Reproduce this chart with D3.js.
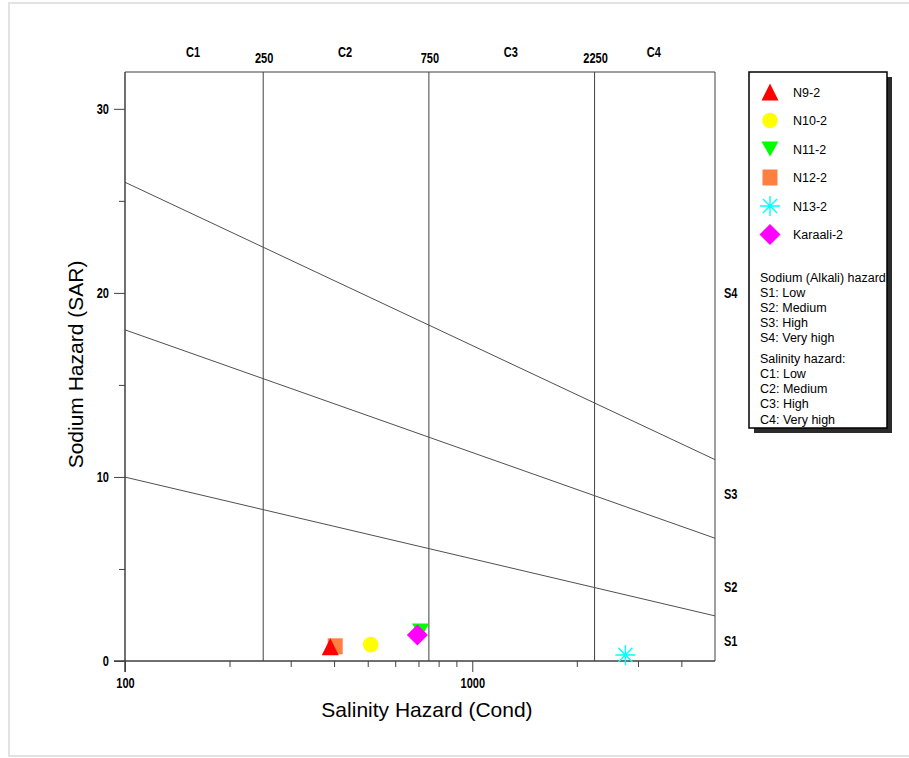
<!DOCTYPE html>
<html>
<head>
<meta charset="utf-8">
<script src="https://cdn.jsdelivr.net/npm/d3@7"></script>
<style>
  html, body { margin: 0; padding: 0; background: #fff; }
  svg { display: block; font-family: Arial, "Liberation Sans", sans-serif; }
  .tick-bold { font-weight: bold; font-size: 14.5px; }
</style>
</head>
<body>
<svg id="chart" width="909" height="758"></svg>
<script>
// Samples: electrical conductivity (µS/cm) and sodium adsorption ratio
const sampleNames = ["N9-2", "N10-2", "N11-2", "N12-2", "N13-2", "Karaali-2"];
const sampleCond  = [390, 510, 710, 403, 2760, 695];
const sampleSar   = [0.77, 0.89, 1.63, 0.80, 0.33, 1.41];

// Marker styling per sample
const sampleColors  = ["#ff0000", "#ffff00", "#00ff00", "#ff7f40", "#00ffff", "#ff00ff"];
const sampleSymbols = ["triangle", "circle", "triangleDown", "square", "star", "diamond"];
// Paint order so overlapping markers stack the same way
const paintOrder = [3, 0, 1, 2, 4, 5];

// Salinity classes and their conductivity limits
const salinityBreaks  = [250, 750, 2250];
const salinityClasses = ["C1", "C2", "C3", "C4"];

// Sodium hazard boundaries (SAR at the two ends of the conductivity range)
const boundaryCond = [100, 5000];
const sodiumBoundaries = [
  [9.99, 2.45],   // S1 / S2
  [17.99, 6.67],  // S2 / S3
  [26.01, 10.94]  // S3 / S4
];
const sodiumClasses  = ["S1", "S2", "S3", "S4"];
const sodiumLabelSar = [1.1, 4.0, 9.1, 20.0];

// Axis ticks
const xMajorTicks = [100, 1000];
const xMinorTicks = [200, 300, 400, 500, 600, 700, 800, 900, 2000, 3000, 4000];
const yMajorTicks = [0, 10, 20, 30];
const yMinorTicks = [5, 15, 25];

// Legend explanation lines
const sodiumNotes   = ["Sodium (Alkali) hazard", "S1: Low", "S2: Medium", "S3: High", "S4: Very high"];
const salinityNotes = ["Salinity hazard:", "C1: Low", "C2: Medium", "C3: High", "C4: Very high"];

const svg = d3.select("#chart");

// narrow bold labels: squeeze glyphs horizontally
function condense(sel, k = 0.76) {
  sel.each(function () {
    const w = this.getComputedTextLength();
    d3.select(this)
      .attr("textLength", (w * k).toFixed(2))
      .attr("lengthAdjust", "spacingAndGlyphs");
  });
}

// page frame
svg.append("rect")
  .attr("x", 9).attr("y", 3).attr("width", 920).attr("height", 753)
  .attr("fill", "none").attr("stroke", "#e2e2e2").attr("stroke-width", 2);

const plot = { left: 125, right: 715, top: 72, bottom: 661 };

const x = d3.scaleLog().domain([100, 5000]).range([plot.left, plot.right]);
const y = d3.scaleLinear().domain([0, 32]).range([plot.bottom, plot.top]);

const lineColor = "#404040";

// frame top and right
svg.append("line")
  .attr("x1", plot.left).attr("x2", plot.right)
  .attr("y1", plot.top).attr("y2", plot.top)
  .attr("stroke", lineColor);
svg.append("line")
  .attr("x1", plot.right).attr("x2", plot.right)
  .attr("y1", plot.top).attr("y2", plot.bottom)
  .attr("stroke", lineColor);

// salinity class separators
svg.append("g").selectAll("line")
  .data(salinityBreaks)
  .join("line")
  .attr("x1", d => x(d)).attr("x2", d => x(d))
  .attr("y1", plot.top).attr("y2", plot.bottom)
  .attr("stroke", lineColor);

// salinity limit values above the frame
svg.append("g").selectAll("text")
  .data(salinityBreaks)
  .join("text")
  .attr("class", "tick-bold")
  .attr("x", d => x(d) + 1).attr("y", 63)
  .attr("text-anchor", "middle")
  .text(d => d)
  .call(condense);

// salinity class names, centred in each band
const bandEdges = [x.domain()[0], ...salinityBreaks, x.domain()[1]];
svg.append("g").selectAll("text")
  .data(salinityClasses)
  .join("text")
  .attr("class", "tick-bold")
  .attr("x", (d, i) => x(Math.sqrt(bandEdges[i] * bandEdges[i + 1])) - 1)
  .attr("y", 57)
  .attr("text-anchor", "middle")
  .text(d => d)
  .call(condense);

// sodium hazard boundary lines
const boundaryLine = d3.line()
  .x((d, i) => x(boundaryCond[i]))
  .y(d => y(d));
svg.append("g").selectAll("path")
  .data(sodiumBoundaries)
  .join("path")
  .attr("d", d => boundaryLine(d))
  .attr("fill", "none")
  .attr("stroke", "#505050")
  .attr("stroke-width", 1);

// sodium class names on the right
svg.append("g").selectAll("text")
  .data(sodiumClasses)
  .join("text")
  .attr("class", "tick-bold")
  .attr("x", 724)
  .attr("y", (d, i) => y(sodiumLabelSar[i]) + 5)
  .text(d => d)
  .call(condense);

// x axis
const xMinor = d3.axisBottom(x).tickValues(xMinorTicks).tickSize(6).tickFormat("");
const xMajor = d3.axisBottom(x).tickValues(xMajorTicks).tickSize(11).tickPadding(6).tickFormat(d3.format("d"));
const gxMinor = svg.append("g").attr("transform", `translate(0,${plot.bottom})`).call(xMinor);
const gxMajor = svg.append("g").attr("transform", `translate(0,${plot.bottom})`).call(xMajor);
[gxMinor, gxMajor].forEach(g => {
  g.select(".domain").attr("stroke", lineColor).attr("d", `M${plot.left - 11},0H${plot.right}`);
  g.selectAll(".tick line").attr("stroke", lineColor);
});
gxMajor.selectAll(".tick text")
  .attr("class", "tick-bold")
  .attr("fill", "#000")
  .style("font-family", "Arial, 'Liberation Sans', sans-serif")
  .call(condense);

// y axis
const yMinor = d3.axisLeft(y).tickValues(yMinorTicks).tickSize(6).tickFormat("");
const yMajor = d3.axisLeft(y).tickValues(yMajorTicks).tickSize(11).tickPadding(5).tickFormat(d3.format("d"));
const gyMinor = svg.append("g").attr("transform", `translate(${plot.left},0)`).call(yMinor);
const gyMajor = svg.append("g").attr("transform", `translate(${plot.left},0)`).call(yMajor);
[gyMinor, gyMajor].forEach(g => {
  g.select(".domain").attr("stroke", lineColor).attr("d", `M0,${plot.top}V${plot.bottom + 11}`);
  g.selectAll(".tick line").attr("stroke", lineColor);
});
gyMajor.selectAll(".tick text")
  .attr("class", "tick-bold")
  .attr("fill", "#000")
  .style("font-family", "Arial, 'Liberation Sans', sans-serif")
  .call(condense);

// axis titles
svg.append("text")
  .attr("x", (plot.left + plot.right) / 2 + 7)
  .attr("y", 717)
  .attr("text-anchor", "middle")
  .attr("font-size", 21)
  .text("Salinity Hazard (Cond)");
svg.append("text")
  .attr("transform", `translate(83,${(plot.top + plot.bottom) / 2 - 2}) rotate(-90)`)
  .attr("text-anchor", "middle")
  .attr("font-size", 21)
  .text("Sodium Hazard (SAR)");

// marker shapes
function symbolPath(kind) {
  switch (kind) {
    case "triangle":     return "M0,-8.5L8.5,8.5L-8.5,8.5Z";
    case "triangleDown": return "M-8.5,-7.5L8.5,-7.5L0,7.5Z";
    case "circle":       return "M-7.8,0A7.8,7.8 0 1,0 7.8,0A7.8,7.8 0 1,0 -7.8,0Z";
    case "square":       return "M-7.5,-8L7.5,-8L7.5,8L-7.5,8Z";
    case "diamond":      return "M0,-10.5L10.5,0L0,10.5L-10.5,0Z";
    case "star": {
      const r = 10;
      let p = "";
      for (let k = 0; k < 4; k++) {
        const a = k * Math.PI / 4;
        p += `M${(-r * Math.cos(a)).toFixed(2)},${(-r * Math.sin(a)).toFixed(2)}L${(r * Math.cos(a)).toFixed(2)},${(r * Math.sin(a)).toFixed(2)}`;
      }
      return p;
    }
  }
}
function drawMarker(g, kind, color) {
  const p = g.append("path").attr("d", symbolPath(kind));
  if (kind === "star") {
    p.attr("fill", "none").attr("stroke", color).attr("stroke-width", 1.4);
  } else {
    p.attr("fill", color).attr("stroke", "none");
  }
}

// data points
const pts = svg.append("g");
paintOrder.forEach(i => {
  const g = pts.append("g")
    .attr("transform", `translate(${x(sampleCond[i])},${y(sampleSar[i])})`);
  drawMarker(g, sampleSymbols[i], sampleColors[i]);
});

// legend
const lg = { x: 749, y: 72, w: 138, h: 356 };
svg.append("rect")
  .attr("x", lg.x + 5).attr("y", lg.y + 5).attr("width", lg.w).attr("height", lg.h)
  .attr("fill", "#2b2b2b");
svg.append("rect")
  .attr("x", lg.x).attr("y", lg.y).attr("width", lg.w).attr("height", lg.h)
  .attr("fill", "#fff").attr("stroke", "#000").attr("stroke-width", 1.5);

const legendRows = svg.append("g").selectAll("g")
  .data(sampleNames)
  .join("g")
  .attr("transform", (d, i) => `translate(${lg.x + 21},${lg.y + 20 + i * 28.5})`);
legendRows.each(function (d, i) {
  drawMarker(d3.select(this), sampleSymbols[i], sampleColors[i]);
});
legendRows.append("text")
  .attr("x", 23).attr("y", 4.5)
  .attr("font-size", 12.5)
  .text(d => d);

svg.append("g").selectAll("text")
  .data(sodiumNotes)
  .join("text")
  .attr("x", lg.x + 11)
  .attr("y", (d, i) => 281.5 + i * 15)
  .attr("font-size", 12.5)
  .text(d => d);
svg.append("g").selectAll("text")
  .data(salinityNotes)
  .join("text")
  .attr("x", lg.x + 11)
  .attr("y", (d, i) => 362.5 + i * 15.3)
  .attr("font-size", 12.5)
  .text(d => d);
</script>
</body>
</html>
